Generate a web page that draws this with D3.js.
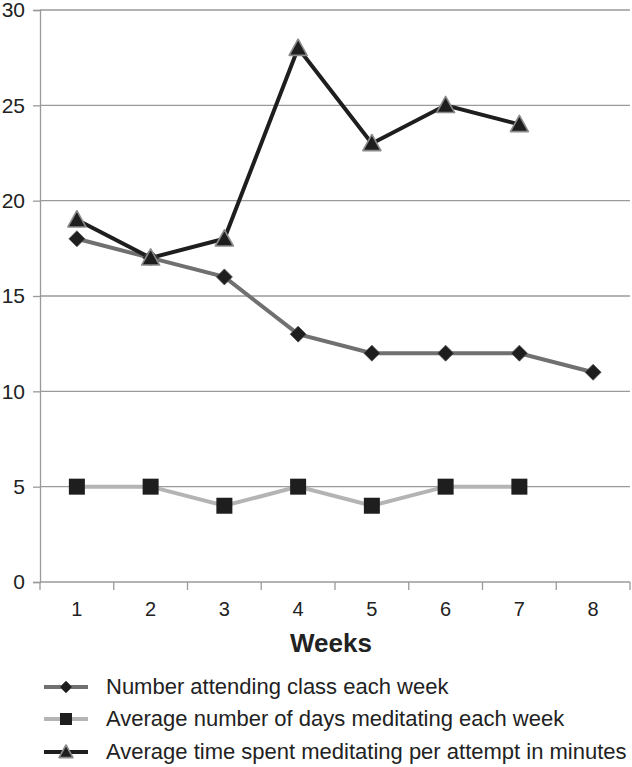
<!DOCTYPE html>
<html><head><meta charset="utf-8">
<script src="https://cdn.jsdelivr.net/npm/d3@7"></script>
<style>body{margin:0;background:#fff}svg{display:block;font-family:"Liberation Sans",Arial,sans-serif}</style>
</head><body>
<svg id="c" width="632" height="767"></svg>
<script>
const weeks = ["1","2","3","4","5","6","7","8"];
const attending = [18,17,16,13,12,12,12,11];
const daysMeditating = [5,5,4,5,4,5,5];
const timeMeditating = [19,17,18,28,23,25,24];
const yTicks = [0,5,10,15,20,25,30];
const seriesNames = ["Number attending class each week","Average number of days meditating each week","Average time spent meditating per attempt in minutes"];

(function(){
const svg = d3.select("#c");
const pLeft = 40, pRight = 630, pTop = 10, pBottom = 582;
const x = d3.scaleBand().domain(weeks).range([pLeft, pRight]);
const y = d3.scaleLinear().domain([0,30]).range([pBottom, pTop]);
const FF = "Liberation Sans, Arial, sans-serif";

svg.append("g").selectAll("line").data(yTicks.filter(d=>d>0)).join("line")
  .attr("x1", pLeft).attr("x2", pRight).attr("y1", d=>y(d)).attr("y2", d=>y(d))
  .attr("stroke", "#9a9a9a").attr("stroke-width", 1.3);

const yAxis = svg.append("g").attr("transform", `translate(${pLeft},0)`)
  .call(d3.axisLeft(y).tickValues(yTicks).tickSize(7).tickPadding(8));
yAxis.select(".domain").attr("stroke", "#9a9a9a").attr("stroke-width", 1.3);
yAxis.selectAll(".tick line").attr("stroke", "#9a9a9a").attr("stroke-width", 1.3);
yAxis.selectAll("text").attr("font-size", 21).attr("fill", "#222").attr("font-family", FF);

const xAxis = svg.append("g").attr("transform", `translate(0,${pBottom})`)
  .call(d3.axisBottom(x).tickSize(0).tickPadding(20));
xAxis.select(".domain").attr("stroke", "#9a9a9a").attr("stroke-width", 1.3).attr("d", `M${pLeft},0H${pRight}`);
xAxis.selectAll("text").attr("font-size", 20).attr("fill", "#222").attr("font-family", FF);
const bounds = weeks.map(w=>x(w)).concat([pRight]);
svg.append("g").selectAll("line").data(bounds).join("line")
  .attr("x1", d=>d).attr("x2", d=>d).attr("y1", pBottom).attr("y2", pBottom+8)
  .attr("stroke", "#9a9a9a").attr("stroke-width", 1.3);

svg.append("text").attr("x", 331).attr("y", 652).attr("text-anchor","middle")
  .attr("font-size", 26).attr("font-weight","bold").attr("fill","#222").text("Weeks");

const cx = i => x(weeks[i]) + x.bandwidth()/2;
const line = d3.line().x((d,i)=>cx(i)).y(d=>y(d));

function drawDiamond(g, px, py, s){
  g.append("path").attr("d", `M${px},${py-s}L${px+s},${py}L${px},${py+s}L${px-s},${py}Z`)
   .attr("fill","#1e1e1e").attr("stroke","#555").attr("stroke-width",0.8);
}
function drawSquare(g, px, py, s){
  g.append("rect").attr("x", px-s).attr("y", py-s).attr("width", 2*s).attr("height", 2*s)
   .attr("fill","#1e1e1e");
}
function drawTriangle(g, px, py, s){
  g.append("path").attr("d", `M${px},${py-s}L${px+s},${py+s*0.8}L${px-s},${py+s*0.8}Z`)
   .attr("fill","#1e1e1e").attr("stroke","#8a8a8a").attr("stroke-width",1.6).attr("stroke-linejoin","round");
}

svg.append("path").datum(attending).attr("d", line).attr("fill","none").attr("stroke","#707070").attr("stroke-width",4);
svg.append("path").datum(daysMeditating).attr("d", line).attr("fill","none").attr("stroke","#b4b4b4").attr("stroke-width",4);
svg.append("path").datum(timeMeditating).attr("d", line).attr("fill","none").attr("stroke","#1e1e1e").attr("stroke-width",4);

const mk = svg.append("g");
attending.forEach((d,i)=>drawDiamond(mk, cx(i), y(d), 8));
daysMeditating.forEach((d,i)=>drawSquare(mk, cx(i), y(d), 8));
timeMeditating.forEach((d,i)=>drawTriangle(mk, cx(i), y(d), 9));

const legY = [687, 719, 752];
const legColors = ["#707070","#b4b4b4","#1e1e1e"];
const leg = svg.append("g");
seriesNames.forEach((n,i)=>{
  leg.append("line").attr("x1",44).attr("x2",88).attr("y1",legY[i]).attr("y2",legY[i])
    .attr("stroke",legColors[i]).attr("stroke-width",4);
  if(i===0) drawDiamond(leg, 66, legY[i], 6);
  if(i===1) drawSquare(leg, 66, legY[i], 6);
  if(i===2) drawTriangle(leg, 66, legY[i], 7);
  leg.append("text").attr("x",106).attr("y",legY[i]+7).attr("font-size",22).attr("fill","#222").attr("font-family", FF).text(n);
});
})();
</script>
</body></html>
